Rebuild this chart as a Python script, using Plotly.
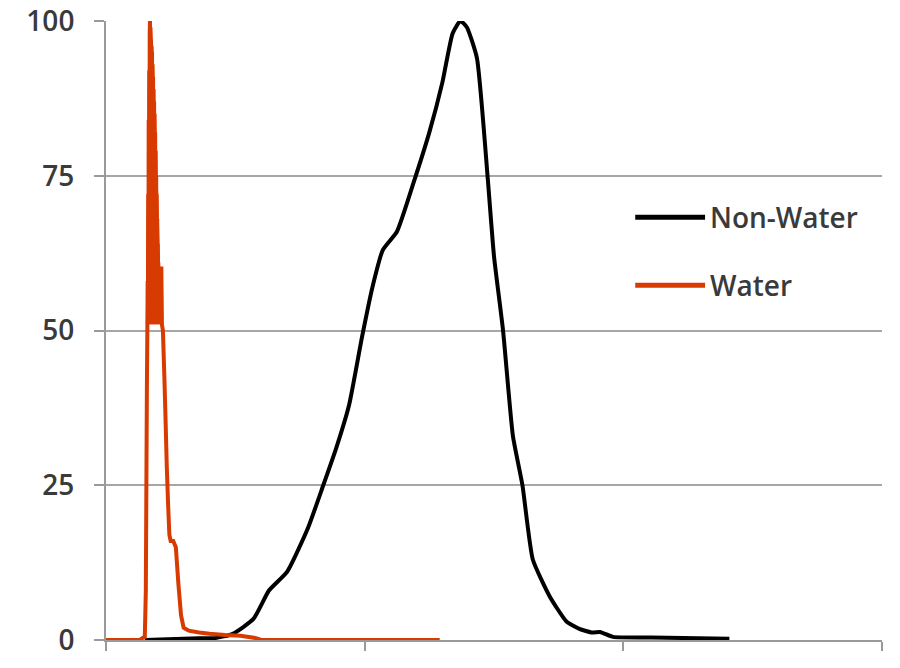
import plotly.graph_objects as go

# ---- data ----
water_x = [0, 13, 14, 15.0, 15.4, 15.8,
           16.0, 16.1, 16.2, 16.3, 16.4, 16.5, 16.6, 16.7, 16.8, 16.9, 17.0,
           17.1, 17.2, 17.3, 17.4, 17.5, 17.6, 17.7, 17.8, 17.9, 18.0,
           18.1, 18.2, 18.3, 18.4, 18.5, 18.6, 18.7, 18.8, 18.9, 19.0,
           19.1, 19.2, 19.3, 19.4, 19.5, 19.6, 19.7, 19.8, 19.9, 20.0,
           20.1, 20.2, 20.3, 20.4, 20.5, 20.6, 20.7, 20.8, 20.9, 21.0,
           21.1, 21.2, 21.4, 21.6, 22.0, 22.6, 23.0, 23.5, 24.0, 24.5, 25.0, 26.0, 27.0,
           28.0, 29.0, 30.0, 32.0, 36.0, 40.0, 46.0, 52.0, 58.0, 60.0, 129.0]
water_y = [0, 0, 0.3, 0.5, 8, 40,
           51, 58, 51, 72, 51, 84, 51, 92, 51, 98, 100,
           51, 99, 51, 97, 51, 96, 51, 95, 51, 93,
           51, 91, 51, 89, 51, 87, 51, 85, 51, 82,
           51, 79, 51, 75, 51, 72, 51, 68, 51, 64,
           51, 61, 51, 60, 51, 60, 51, 60, 51, 60,
           51, 60, 60, 51, 50, 42, 36, 28, 22, 17, 16, 16, 15,
           9, 4, 2, 1.5, 1.2, 1.0, 0.8, 0.7, 0.3, 0, 0]

nonwater_x = [15, 36, 42, 49, 57, 63, 70, 78, 84, 89, 94, 99, 103, 107, 112.5, 119, 125, 130,
              134, 137, 139.5, 143.4, 147.5, 150, 153.5, 157.3, 161, 165, 171.6, 178, 183,
              188, 191, 196, 211, 241]
nonwater_y = [0, 0.3, 0.3, 1, 3.4, 8, 11, 18, 25, 31, 38, 49, 57, 63, 66, 74, 82, 90,
              98, 100, 99, 94, 75, 62, 50, 33, 25, 13, 7, 3, 1.8,
              1.2, 1.3, 0.5, 0.4, 0.2]

y_ticks = [0, 25, 50, 75, 100]
x_ticks = [0, 100, 200, 300]
series_names = ["Non-Water", "Water"]
series_colors = ["#000000", "#D83B01"]

TEXT = "#3a3a3a"
FONT = "Open Sans, DejaVu Sans, sans-serif"
AXIS = "#9a9a9a"

# envelope of the densely oscillating part of the Water series (drawn solid, as in the reference)
osc = [(x, y) for x, y in zip(water_x, water_y) if 16.0 <= x <= 21.6]
base = min(y for _, y in osc)
env = [(x, y) for x, y in osc if y > base]
env_x = [osc[0][0]] + [p[0] for p in env] + [osc[-1][0]]
env_y = [base] + [p[1] for p in env] + [base]

fig = go.Figure()
fig.add_trace(go.Scatter(x=nonwater_x, y=nonwater_y, mode="lines", name=series_names[0],
                         line=dict(color=series_colors[0], width=4, shape="spline", smoothing=0.5)))
fig.add_trace(go.Scatter(x=env_x, y=env_y, mode="lines", fill="toself", showlegend=False,
                         fillcolor=series_colors[1], hoverinfo="skip",
                         line=dict(color=series_colors[1], width=3)))
fig.add_trace(go.Scatter(x=water_x, y=water_y, mode="lines", name=series_names[1],
                         line=dict(color=series_colors[1], width=4, simplify=False)))

# custom legend (long line samples like the reference)
legend_y = [0.683, 0.573]
for name, col, ly in zip(series_names, series_colors, legend_y):
    fig.add_shape(type="line", xref="paper", yref="paper", x0=0.682, x1=0.772, y0=ly, y1=ly,
                  line=dict(color=col, width=5))
    fig.add_annotation(xref="paper", yref="paper", x=0.776, y=ly, text=name, showarrow=False,
                       xanchor="left", yanchor="middle",
                       font=dict(family=FONT, size=28, color=TEXT, weight=600))

fig.update_layout(
    width=900, height=668,
    margin=dict(l=106, r=18, t=21, b=28, autoexpand=False),
    paper_bgcolor="white", plot_bgcolor="white",
    showlegend=False,
    font=dict(family=FONT, size=28, color=TEXT),
)
fig.update_xaxes(range=[0, 300], tickvals=x_ticks, showticklabels=False, ticks="outside",
                 ticklen=9, tickcolor=AXIS, tickwidth=2, showgrid=False, automargin=False,
                 showline=True, linecolor=AXIS, linewidth=2, zeroline=False)
fig.update_yaxes(range=[0, 100], tickvals=y_ticks, ticks="outside", ticklen=10, automargin=False,
                 tickcolor=AXIS, tickwidth=2, ticklabelstandoff=14,
                 showgrid=True, gridcolor="#a6a6a6", gridwidth=2,
                 showline=True, linecolor=AXIS, linewidth=2, zeroline=False,
                 tickfont=dict(family=FONT, size=28, color=TEXT, weight=600))

fig.write_html("out.html", post_script="document.body.style.margin='0';",
               config={"displayModeBar": False})
